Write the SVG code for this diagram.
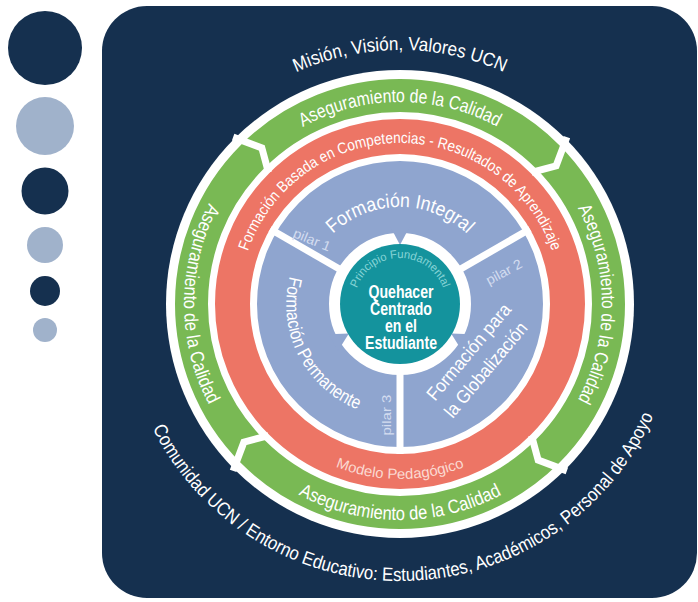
<svg xmlns="http://www.w3.org/2000/svg" xmlns:xlink="http://www.w3.org/1999/xlink" width="698" height="602" viewBox="0 0 698 602">
<style>
.t{font-family:"Liberation Sans Narrow","Liberation Sans",Arial,sans-serif;fill:#fff;}
.navy{fill:#15304f;}
.lite{fill:#a0b2cb;}
.cut{fill:none;stroke:#fff;stroke-width:7;stroke-linejoin:miter;}
.div{stroke:#fff;stroke-width:7;}
.notch{fill:#8fa5cf;}
.pil{fill:#d3dcef;font-size:13.5px;}
</style>
<defs>
<path id="pTop" d="M400 558A254 254 0 0 1 400 50A254 254 0 0 1 400 558"/>
<path id="pBot" d="M400 27A277 277 0 0 0 400 581A277 277 0 0 0 400 27"/>
<path id="gTop" d="M400 506A202 202 0 0 1 400 102A202 202 0 0 1 400 506"/>
<path id="gRight" d="M198 304A202 202 0 0 1 602 304A202 202 0 0 1 198 304"/>
<path id="gBot" d="M400 88A216 216 0 0 0 400 520A216 216 0 0 0 400 88"/>
<path id="gLeft" d="M616 304A216 216 0 0 0 184 304A216 216 0 0 0 616 304"/>
<path id="rTop" d="M400 465A161 161 0 0 1 400 143A161 161 0 0 1 400 465"/>
<path id="rBot" d="M400 129A175 175 0 0 0 400 479A175 175 0 0 0 400 129"/>
<path id="bTop" d="M400 401A97 97 0 0 1 400 207A97 97 0 0 1 400 401"/>
<path id="bLeft" d="M501.57 252.24A114 114 0 0 0 298.43 355.76A114 114 0 0 0 501.57 252.24"/>
<path id="cTop" d="M400 350A46 46 0 0 1 400 258A46 46 0 0 1 400 350"/>
<path id="gcut" d="M636 304L608.1 316.7L586 304"/>
<path id="bnotch" d="M477 294.5L459 304L477 313.5Z"/>
</defs>

<g id="dots">
<circle class="navy" cx="45" cy="48" r="37"/>
<circle class="lite" cx="45" cy="126" r="29"/>
<circle class="navy" cx="45" cy="191" r="23.5"/>
<circle class="lite" cx="45" cy="245" r="18"/>
<circle class="navy" cx="45" cy="291" r="15"/>
<circle class="lite" cx="45" cy="330" r="12"/>
</g>

<g id="panel">
<rect class="navy" x="102" y="6" width="595" height="592" rx="45"/>
</g>

<g id="outer-ring">
<circle cx="400" cy="304" r="234" fill="#fff"/>
</g>

<g id="quality">
<circle cx="400" cy="304" r="208.5" fill="none" stroke="#79b954" stroke-width="33"/>
</g>

<g id="model">
<circle cx="400" cy="304" r="167.5" fill="none" stroke="#ed7565" stroke-width="35"/>
</g>

<g id="pillars">
<circle cx="400" cy="304" r="107" fill="none" stroke="#8fa5cf" stroke-width="72"/>
</g>

<g id="connectors">
<use xlink:href="#gcut" class="cut" transform="rotate(45 400 304)"/>
<use xlink:href="#gcut" class="cut" transform="rotate(135 400 304)"/>
<use xlink:href="#gcut" class="cut" transform="rotate(225 400 304)"/>
<use xlink:href="#gcut" class="cut" transform="rotate(315 400 304)"/>
<line x1="458" y1="304" x2="550" y2="304" class="div" transform="rotate(330 400 304)"/>
<line x1="458" y1="304" x2="550" y2="304" class="div" transform="rotate(210 400 304)"/>
<line x1="458" y1="304" x2="550" y2="304" class="div" transform="rotate(90 400 304)"/>
<use xlink:href="#bnotch" class="notch" transform="rotate(270 400 304)"/>
<use xlink:href="#bnotch" class="notch" transform="rotate(150 400 304)"/>
<use xlink:href="#bnotch" class="notch" transform="rotate(30 400 304)"/>
</g>

<g id="core">
<circle cx="400" cy="304" r="60" fill="#14939d"/>
<text class="t" font-size="11.5" style="fill:#86d3d6"><textPath xlink:href="#cTop" startOffset="50%" text-anchor="middle" textLength="112" lengthAdjust="spacingAndGlyphs">Principio Fundamental</textPath></text>
<g class="t" font-size="17.5" font-weight="bold" text-anchor="middle">
<text x="401" y="298" textLength="65" lengthAdjust="spacingAndGlyphs">Quehacer</text>
<text x="401" y="315" textLength="62" lengthAdjust="spacingAndGlyphs">Centrado</text>
<text x="401" y="332" textLength="32" lengthAdjust="spacingAndGlyphs">en el</text>
<text x="401" y="349" textLength="72" lengthAdjust="spacingAndGlyphs">Estudiante</text>
</g>
</g>

<g id="pillar-texts">
<text class="t" font-size="19.5"><textPath xlink:href="#bTop" startOffset="50%" text-anchor="middle" textLength="148" lengthAdjust="spacingAndGlyphs">Formación Integral</textPath></text>
<text class="t" font-size="18.5"><textPath xlink:href="#bLeft" startOffset="50%" text-anchor="middle" textLength="163" lengthAdjust="spacingAndGlyphs">Formación Permanente</textPath></text>
<g class="t" font-size="18.5" text-anchor="middle">
<text transform="translate(469 352) rotate(-50)" y="6" textLength="120" lengthAdjust="spacingAndGlyphs">Formación para</text>
<text transform="translate(486 370) rotate(-50)" y="6" textLength="118" lengthAdjust="spacingAndGlyphs">la Globalización</text>
</g>
<g class="t pil" text-anchor="middle">
<text transform="translate(312 240) rotate(22)" y="4.5" textLength="39" lengthAdjust="spacingAndGlyphs">pilar 1</text>
<text transform="translate(504 272) rotate(-28)" y="4.5" textLength="39" lengthAdjust="spacingAndGlyphs">pilar 2</text>
<text transform="translate(386 415) rotate(-90)" y="4.5" textLength="41" lengthAdjust="spacingAndGlyphs">pilar 3</text>
</g>
</g>

<g id="model-texts">
<text class="t" font-size="15.5"><textPath xlink:href="#rTop" startOffset="50%" text-anchor="middle" textLength="398" lengthAdjust="spacingAndGlyphs">Formación Basada en Competencias - Resultados de Aprendizaje</textPath></text>
<text class="t" font-size="14.5" style="fill:#fbd9d1"><textPath xlink:href="#rBot" startOffset="50%" text-anchor="middle" textLength="132" lengthAdjust="spacingAndGlyphs">Modelo Pedagógico</textPath></text>
</g>

<g id="quality-texts" class="t" font-size="19">
<text><textPath xlink:href="#gTop" startOffset="50%" text-anchor="middle" textLength="203" lengthAdjust="spacingAndGlyphs">Aseguramiento de la Calidad</textPath></text>
<text><textPath xlink:href="#gRight" startOffset="50%" text-anchor="middle" textLength="200" lengthAdjust="spacingAndGlyphs">Aseguramiento de la Calidad</textPath></text>
<text><textPath xlink:href="#gBot" startOffset="50%" text-anchor="middle" textLength="212" lengthAdjust="spacingAndGlyphs">Aseguramiento de la Calidad</textPath></text>
<text><textPath xlink:href="#gLeft" startOffset="50%" text-anchor="middle" textLength="210" lengthAdjust="spacingAndGlyphs">Aseguramiento de la Calidad</textPath></text>
</g>

<g id="outer-texts" class="t" font-size="19">
<text><textPath xlink:href="#pTop" startOffset="50%" text-anchor="middle" textLength="214" lengthAdjust="spacingAndGlyphs">Misión, Visión, Valores UCN</textPath></text>
<text><textPath xlink:href="#pBot" startOffset="50.4%" text-anchor="middle" textLength="626" lengthAdjust="spacingAndGlyphs">Comunidad UCN / Entorno Educativo: Estudiantes, Académicos, Personal de Apoyo</textPath></text>
</g>
</svg>
